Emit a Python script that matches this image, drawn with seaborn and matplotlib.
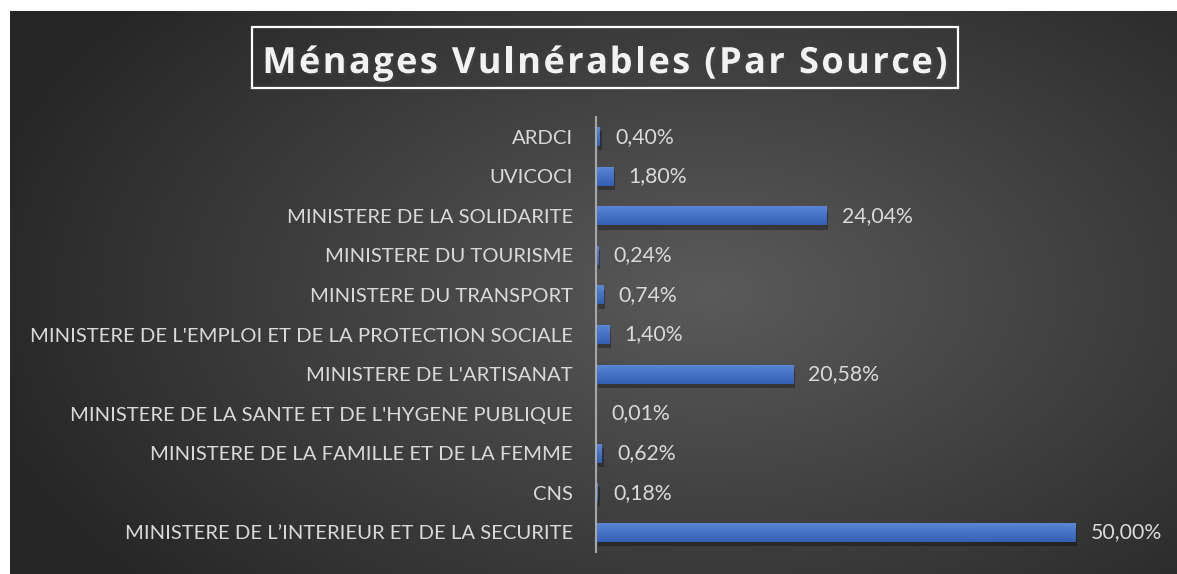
import numpy as np
import pandas as pd
import matplotlib
matplotlib.use("Agg")
import matplotlib.pyplot as plt
import matplotlib.patches as mpatches
import matplotlib.patheffects as pe
from matplotlib.font_manager import FontProperties
import seaborn as sns

categories = [
    "ARDCI",
    "UVICOCI",
    "MINISTERE DE LA SOLIDARITE",
    "MINISTERE DU TOURISME",
    "MINISTERE DU TRANSPORT",
    "MINISTERE DE L'EMPLOI ET DE LA PROTECTION SOCIALE",
    "MINISTERE DE L'ARTISANAT",
    "MINISTERE DE LA SANTE ET DE L'HYGENE PUBLIQUE",
    "MINISTERE DE LA FAMILLE ET DE LA FEMME",
    "CNS",
    "MINISTERE DE L\u2019INTERIEUR ET DE LA SECURITE",
]
values = [0.40, 1.80, 24.04, 0.24, 0.74, 1.40, 20.58, 0.01, 0.62, 0.18, 50.00]
title = "Ménages Vulnérables (Par Source)"

sns.set_theme(style="white")
plt.rcParams["font.family"] = ["Lato", "DejaVu Sans"]

W, H = 1177, 574
fig = plt.figure(figsize=(W / 100, H / 100), dpi=100, facecolor="white")

# background gradient panel
bg = fig.add_axes([10 / W, 0, 1 - 10 / W, 1 - 11 / H])
bg.set_axis_off()
nx, ny = 400, 200
xx, yy = np.meshgrid(np.linspace(0, 1, nx), np.linspace(0, 1, ny))
cx, cy = 0.6, 0.5
r = np.sqrt(((xx - cx) / 0.65) ** 2 + ((yy - cy) / 0.8) ** 2)
r = np.clip(r, 0, 1)
c0, c1 = 0x5a / 255, 0x26 / 255
img = c0 + (c1 - c0) * r ** 1.0
bg.imshow(np.dstack([img, img, img]), aspect="auto", extent=[0, 1, 1, 0])
bg.set_xlim(0, 1)
bg.set_ylim(1, 0)

# main axes
ax = fig.add_axes([596 / W, 22 / H, 527 / W, 435 / H])
ax.patch.set_alpha(0)
df = pd.DataFrame({"cat": categories, "val": values})
sns.barplot(data=df, x="val", y="cat", orient="h", width=0.48,
            color="#4472C4", saturation=1, ax=ax)
ax.set_xlim(0, 55)
ax.set_xlabel("")
ax.set_ylabel("")
ax.set_xticks([])
for s in ["top", "right", "bottom"]:
    ax.spines[s].set_visible(False)
ax.spines["left"].set_color("#a6a6a6")
ax.spines["left"].set_linewidth(1.5)
ax.spines["left"].set_zorder(5)
ax.tick_params(axis="y", length=0, pad=16.5, labelsize=14.6, labelcolor="#d9d9d9")

# gradient fill & shadow for bars
grad = np.linspace(0, 1, 64).reshape(-1, 1)
top = np.array([0x5a, 0x86, 0xd6]) / 255
bot = np.array([0x33, 0x5f, 0xb5]) / 255
gimg = top[None, None, :] * (1 - grad[..., None]) + bot[None, None, :] * grad[..., None]
for p in ax.patches:
    x0, y0 = p.get_x(), p.get_y()
    w, h = p.get_width(), p.get_height()
    p.set_linewidth(0)
    p.set_path_effects([pe.SimplePatchShadow(offset=(1.5, -3), alpha=0.3, shadow_rgbFace="black"), pe.Normal()])
    im = ax.imshow(gimg, extent=[x0, x0 + w, y0 + h, y0], aspect="auto", zorder=3)
    im.set_clip_path(p)

ax.set_ylim(len(categories) - 0.5, -0.5)
ax.set_xlim(0, 55)

for i, v in enumerate(values):
    ax.annotate(f"{v:.2f}%".replace(".", ","), xy=(v, i), xytext=(11, 0),
                textcoords="offset points", va="center", ha="left",
                fontsize=15.3, color="#d9d9d9")

# title with box
fig.patches.append(mpatches.Rectangle((252 / W, 1 - 88 / H), (958 - 252) / W, (88 - 27) / H,
                                      transform=fig.transFigure, fill=False,
                                      edgecolor="white", linewidth=1.6))

# letter-spaced title
tprop = FontProperties(family=["Open Sans", "DejaVu Sans"], weight="bold", size=26)
renderer = fig.canvas.get_renderer()
def tw(s):
    w_, _, _ = renderer.get_text_width_height_descent(s, tprop, ismath=False)
    return w_
ref_w = tw("l")
spacing = 2.4
pos = [tw(title[:i] + "l") - ref_w + i * spacing for i in range(len(title))]
total = tw(title) + (len(title) - 1) * spacing
x_start = 605 - total / 2
yb = 1 - 73 / H
for ch, px in zip(title, pos):
    if ch == " ":
        continue
    fig.text((x_start + px) / W, yb, ch, ha="left", va="baseline",
             fontproperties=tprop, color="#f2f2f2",
             path_effects=[pe.withSimplePatchShadow(offset=(1.5, -1.5), alpha=0.5)])

fig.savefig("out.png", dpi=100, facecolor="white")
